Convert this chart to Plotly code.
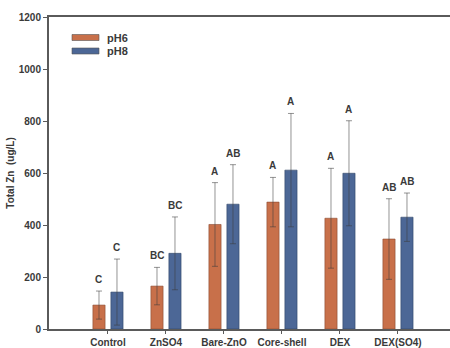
import plotly.graph_objects as go

# Treatments and mean total Zn (ug/L) with standard deviations
categories = ["Control", "ZnSO4", "Bare-ZnO", "Core-shell", "DEX", "DEX(SO4)"]
ph6_mean = [92, 165, 402, 488, 426, 346]
ph6_sd = [54, 72, 161, 95, 192, 155]
ph8_mean = [142, 291, 480, 611, 599, 430]
ph8_sd = [127, 140, 152, 218, 202, 93]
ph6_letters = ["C", "BC", "A", "A", "A", "AB"]
ph8_letters = ["C", "BC", "AB", "A", "A", "AB"]
y_ticks = [0, 200, 400, 600, 800, 1000, 1200]

ORANGE = "#C8704A"
BLUE = "#4C6796"
TEXT = "#3a3a3a"
AXIS = "#5a5a5a"
OFFSET = 0.155
BAR_W = 0.21

idx = list(range(len(categories)))
x6 = [i - OFFSET for i in idx]
x8 = [i + OFFSET for i in idx]

err_style = dict(type="data", thickness=1, width=3, color="rgba(60,60,60,0.55)")

fig = go.Figure()
fig.add_trace(go.Bar(
    x=x6, y=ph6_mean, width=BAR_W, name="pH6",
    marker=dict(color=ORANGE, line=dict(color="#8a4a30", width=0.6)),
    error_y=dict(array=ph6_sd, **err_style),
))
fig.add_trace(go.Bar(
    x=x8, y=ph8_mean, width=BAR_W, name="pH8",
    marker=dict(color=BLUE, line=dict(color="#2f4466", width=0.6)),
    error_y=dict(array=ph8_sd, **err_style),
))

# Significance letters above each error bar
letter_font = dict(family="Liberation Sans, Arial", size=10, color=TEXT, weight="bold")
for xs, means, sds, letters in ((x6, ph6_mean, ph6_sd, ph6_letters),
                                (x8, ph8_mean, ph8_sd, ph8_letters)):
    for x, m, s, t in zip(xs, means, sds, letters):
        fig.add_annotation(x=x, y=m + s, text=t, showarrow=False,
                           yanchor="bottom", yshift=4, font=letter_font)

# Legend drawn as wide swatches with labels
L, R = 49.0, 450.0
T, B = 17.0, 329.0

def px(xp):
    return (xp - L) / (R - L)

def py(yp):
    return (B - yp) / (B - T)

legend_items = [("pH6", ORANGE, 34.5, 40.5), ("pH8", BLUE, 48, 54)]
for label, col, y0, y1 in legend_items:
    fig.add_shape(type="rect", xref="paper", yref="paper",
                  x0=px(72), x1=px(99), y0=py(y1), y1=py(y0),
                  fillcolor=col, line=dict(color="#555555", width=0.6))
    fig.add_annotation(xref="paper", yref="paper", x=px(105), y=py((y0 + y1) / 2),
                       text=label, showarrow=False, xanchor="left", yanchor="middle",
                       font=dict(family="Liberation Sans, Arial", size=11,
                                 color=TEXT, weight="bold"))

fig.update_layout(
    width=450, height=348,
    margin=dict(l=49, r=0, t=17, b=19),
    paper_bgcolor="white", plot_bgcolor="white",
    showlegend=False, barmode="overlay",
    font=dict(family="Liberation Sans, Arial", color=TEXT),
)
fig.update_xaxes(
    range=[-1.017, 5.897], tickvals=idx, ticktext=categories,
    showgrid=False, zeroline=False,
    showline=True, linecolor=AXIS, linewidth=2, mirror=True,
    ticks="outside", ticklen=3, tickcolor=AXIS, tickwidth=1,
    tickfont=dict(size=10, color=TEXT, weight="bold"),
)
fig.update_yaxes(
    range=[0, 1200], tickvals=y_ticks,
    showgrid=False, zeroline=False,
    showline=True, linecolor=AXIS, linewidth=2,
    ticks="outside", ticklen=4, tickcolor=AXIS, tickwidth=1,
    tickfont=dict(size=10, color=TEXT, weight="bold"),
    title=dict(text="Total Zn  (ug/L)", standoff=2,
               font=dict(size=10, color=TEXT, weight="bold")),
)

fig.write_html("out.html")
